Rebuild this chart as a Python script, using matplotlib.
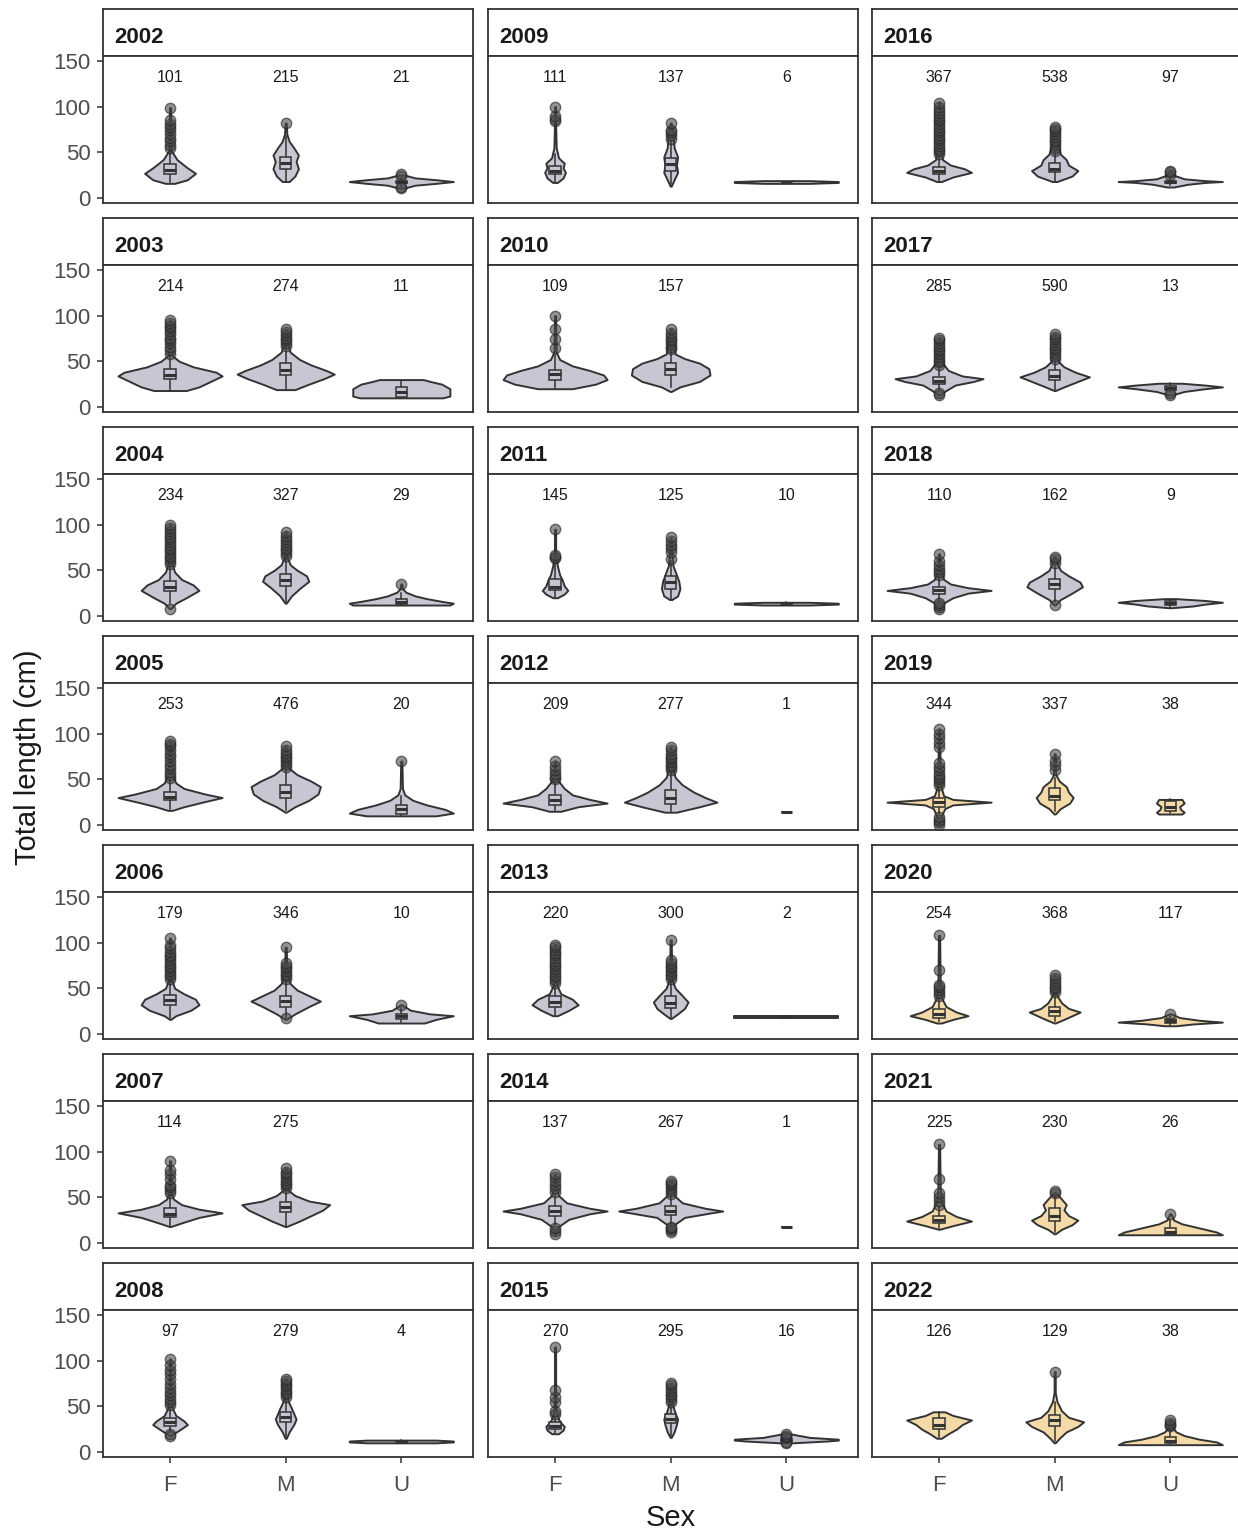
import matplotlib.pyplot as plt
from matplotlib.patches import Rectangle

plt.rcParams['font.family'] = ['Liberation Sans', 'DejaVu Sans']

sexes = ['F', 'M', 'U']
years = [2002, 2003, 2004, 2005, 2006, 2007, 2008,
         2009, 2010, 2011, 2012, 2013, 2014, 2015,
         2016, 2017, 2018, 2019, 2020, 2021, 2022]
tan_years = [2019, 2020, 2021, 2022]

# sample size per sex (None = no fish of that sex)
counts = {
    2002: [101, 215, 21], 2003: [214, 274, 11], 2004: [234, 327, 29],
    2005: [253, 476, 20], 2006: [179, 346, 10], 2007: [114, 275, None],
    2008: [97, 279, 4], 2009: [111, 137, 6], 2010: [109, 157, None],
    2011: [145, 125, 10], 2012: [209, 277, 1], 2013: [220, 300, 2],
    2014: [137, 267, 1], 2015: [270, 295, 16], 2016: [367, 538, 97],
    2017: [285, 590, 13], 2018: [110, 162, 9], 2019: [344, 337, 38],
    2020: [254, 368, 117], 2021: [225, 230, 26], 2022: [126, 129, 38],
}

# violin outlines: (length, half width in category units)
shapes = {
    2002: [[(16, .04), (20, .15), (27, .22), (33, .15), (42, .06), (52, .01), (99, .005)],
           [(18, .03), (24, .08), (32, .11), (40, .09), (47, .11), (55, .07), (62, .03), (70, .01), (82, .005)],
           [(11, .03), (14, .12), (16, .3), (18, .45), (20, .3), (22, .12), (25, .03)]],
    2003: [[(18, .14), (22, .25), (28, .35), (34, .45), (38, .4), (44, .2), (50, .08), (56, .02), (65, .01), (95, .005)],
           [(19, .08), (25, .2), (31, .33), (36, .42), (40, .35), (46, .22), (52, .12), (60, .04), (70, .01), (85, .005)],
           [(10, .36), (12, .42), (20, .42), (25, .35), (28, .25), (30, .19)]],
    2004: [[(8, .005), (14, .05), (20, .14), (28, .25), (34, .2), (40, .1), (48, .04), (60, .01), (100, .005)],
           [(14, .005), (22, .05), (30, .12), (38, .2), (44, .18), (50, .1), (56, .04), (65, .01), (92, .005)],
           [(12, .42), (14, .45), (16, .35), (19, .22), (22, .12), (26, .04), (30, .01), (35, .005)]],
    2005: [[(16, .02), (20, .12), (25, .28), (30, .45), (34, .3), (40, .12), (46, .05), (55, .02), (70, .01), (92, .005)],
           [(14, .005), (20, .08), (27, .2), (34, .28), (42, .3), (48, .22), (55, .1), (62, .03), (70, .01), (86, .005)],
           [(10, .3), (13, .45), (17, .38), (22, .22), (27, .1), (33, .03), (40, .01), (70, .005)]],
    2006: [[(16, .005), (20, .05), (26, .18), (32, .25), (38, .22), (44, .12), (50, .04), (60, .01), (105, .005)],
           [(16, .005), (22, .08), (30, .2), (36, .3), (42, .2), (48, .1), (55, .04), (65, .01), (95, .005)],
           [(12, .2), (16, .3), (20, .45), (22, .25), (26, .08), (32, .005)]],
    2007: [[(18, .005), (22, .1), (28, .25), (33, .45), (37, .25), (42, .1), (48, .03), (55, .01), (90, .005)],
           [(18, .005), (24, .12), (30, .22), (36, .32), (42, .38), (46, .2), (52, .08), (58, .02), (82, .005)],
           None],
    2008: [[(18, .005), (24, .08), (30, .15), (34, .12), (40, .05), (48, .02), (60, .01), (102, .005)],
           [(15, .005), (22, .03), (30, .07), (36, .09), (42, .07), (48, .05), (56, .02), (80, .005)],
           [(10, .3), (11, .45), (12, .45), (13, .3)]],
    2009: [[(17, .02), (22, .07), (28, .09), (33, .07), (38, .08), (44, .03), (55, .01), (80, .005), (100, .005)],
           [(13, .005), (20, .03), (28, .06), (36, .05), (45, .06), (55, .03), (70, .02), (82, .005)],
           [(16, .2), (17, .45), (18, .45), (19, .2)]],
    2010: [[(20, .15), (25, .35), (30, .45), (35, .42), (40, .3), (45, .15), (52, .04), (60, .01), (100, .005)],
           [(17, .005), (22, .08), (28, .25), (35, .34), (42, .33), (48, .25), (53, .12), (58, .04), (70, .02), (85, .005)],
           None],
    2011: [[(20, .02), (24, .08), (28, .11), (33, .08), (40, .06), (45, .04), (55, .02), (70, .005), (95, .005)],
           [(18, .01), (22, .06), (30, .08), (38, .07), (45, .05), (55, .02), (70, .01), (85, .005)],
           [(12, .2), (13, .45), (14, .45), (15, .2)]],
    2012: [[(15, .05), (20, .2), (24, .45), (28, .3), (33, .15), (40, .08), (48, .03), (55, .01), (70, .005)],
           [(14, .05), (20, .25), (25, .4), (30, .3), (36, .2), (44, .1), (52, .04), (60, .02), (85, .005)],
           None],
    2013: [[(20, .02), (26, .12), (32, .2), (38, .15), (44, .05), (52, .02), (60, .01), (98, .005)],
           [(17, .005), (22, .06), (28, .12), (35, .15), (42, .1), (50, .04), (60, .01), (103, .005)],
           [(18, .45), (20, .45)]],
    2014: [[(10, .005), (18, .03), (26, .12), (32, .3), (35, .45), (38, .3), (44, .1), (52, .03), (60, .01), (75, .005)],
           [(12, .005), (20, .03), (28, .12), (33, .35), (35, .45), (38, .3), (44, .1), (52, .03), (68, .005)],
           None],
    2015: [[(20, .03), (24, .07), (28, .08), (32, .05), (36, .03), (45, .01), (70, .005), (115, .005)],
           [(16, .005), (22, .03), (30, .05), (36, .06), (42, .04), (50, .02), (60, .01), (75, .005)],
           [(10, .05), (12, .35), (13, .45), (14, .45), (16, .2), (20, .03)]],
    2016: [[(18, .02), (23, .12), (28, .28), (32, .22), (36, .1), (42, .03), (60, .01), (105, .005)],
           [(18, .02), (24, .15), (30, .2), (36, .12), (42, .1), (48, .05), (60, .02), (78, .005)],
           [(12, .03), (15, .15), (17, .3), (18, .45), (19, .3), (21, .12), (25, .03), (30, .005)]],
    2017: [[(13, .005), (18, .06), (24, .14), (28, .3), (31, .38), (34, .2), (40, .08), (48, .03), (60, .01), (76, .005)],
           [(18, .005), (22, .08), (28, .2), (33, .3), (38, .18), (44, .08), (50, .03), (60, .01), (80, .005)],
           [(13, .01), (17, .12), (20, .3), (22, .45), (24, .3), (26, .1)]],
    2018: [[(8, .005), (15, .05), (20, .12), (25, .25), (28, .45), (31, .25), (35, .1), (40, .04), (50, .01), (68, .005)],
           [(12, .005), (18, .05), (25, .15), (32, .24), (37, .22), (44, .12), (50, .05), (58, .02), (65, .005)],
           [(9, .01), (11, .2), (13, .3), (15, .45), (17, .3), (19, .05)]],
    2019: [[(1, .005), (10, .02), (18, .05), (22, .12), (25, .45), (28, .12), (32, .04), (40, .02), (60, .01), (105, .005)],
           [(12, .005), (18, .05), (24, .13), (30, .16), (36, .12), (42, .1), (48, .04), (55, .01), (78, .005)],
           [(12, .1), (14, .12), (17, .09), (20, .08), (24, .12), (28, .1)]],
    2020: [[(12, .02), (16, .12), (20, .25), (24, .15), (30, .06), (40, .02), (55, .01), (108, .005)],
           [(12, .005), (16, .08), (20, .15), (24, .22), (28, .12), (34, .06), (42, .02), (50, .01), (65, .005)],
           [(9, .05), (11, .2), (13, .45), (15, .25), (18, .08), (22, .01)]],
    2021: [[(15, .005), (19, .12), (24, .28), (29, .15), (35, .06), (45, .02), (60, .01), (108, .005)],
           [(10, .005), (15, .06), (20, .15), (25, .2), (30, .12), (36, .08), (42, .1), (48, .06), (55, .01)],
           [(9, .45), (12, .4), (15, .3), (18, .2), (21, .1), (25, .03), (32, .005)]],
    2022: [[(15, .02), (20, .08), (25, .15), (30, .2), (35, .28), (40, .12), (44, .05)],
           [(10, .005), (15, .04), (22, .1), (28, .2), (33, .25), (38, .12), (45, .06), (55, .02), (65, .005), (88, .005)],
           [(8, .45), (11, .4), (14, .25), (18, .12), (22, .05), (28, .01), (35, .005)]],
}

# box stats: (lower whisker, q1, median, q3, upper whisker)
boxes = {
    2002: [(17, 26, 31, 37, 52), (18, 32, 38, 45, 68), (13, 16, 18, 19, 22)],
    2003: [(18, 31, 35, 42, 57), (20, 35, 41, 48, 66), (10, 11, 16, 22, 30)],
    2004: [(14, 27, 32, 38, 55), (15, 33, 39, 46, 64), (12, 13, 15, 19, 25)],
    2005: [(18, 27, 31, 36, 50), (16, 30, 36, 44, 63), (10, 12, 17, 22, 32)],
    2006: [(18, 32, 37, 43, 60), (18, 30, 36, 42, 58), (13, 16, 20, 22, 28)],
    2007: [(19, 28, 32, 38, 52), (19, 34, 39, 45, 60), None],
    2008: [(22, 29, 33, 37, 50), (17, 33, 38, 44, 58), (10, 11, 11, 12, 13)],
    2009: [(18, 26, 30, 35, 48), (15, 30, 37, 44, 62), (17, 17, 17, 18, 18)],
    2010: [(20, 30, 36, 41, 57), (22, 35, 42, 48, 62), None],
    2011: [(21, 28, 32, 40, 58), (19, 30, 37, 44, 60), (12, 13, 13, 14, 15)],
    2012: [(16, 22, 27, 33, 48), (15, 23, 30, 38, 58), (14, 14, 14, 14, 14)],
    2013: [(21, 30, 35, 42, 55), (18, 28, 34, 42, 58), (18, 18, 19, 20, 20)],
    2014: [(20, 30, 35, 40, 54), (20, 31, 35, 40, 52), (17, 17, 17, 17, 17)],
    2015: [(21, 25, 29, 33, 40), (18, 32, 36, 42, 55), (11, 12, 13, 14, 16)],
    2016: [(19, 26, 30, 34, 46), (19, 28, 32, 38, 50), (14, 16, 18, 19, 22)],
    2017: [(18, 25, 29, 33, 45), (19, 30, 34, 40, 52), (16, 19, 21, 23, 26)],
    2018: [(16, 24, 28, 32, 44), (15, 30, 35, 40, 55), (10, 12, 14, 16, 19)],
    2019: [(12, 20, 25, 30, 42), (15, 27, 32, 40, 52), (13, 15, 20, 26, 28)],
    2020: [(14, 18, 22, 27, 40), (14, 20, 25, 30, 45), (10, 12, 14, 16, 20)],
    2021: [(16, 22, 25, 30, 40), (12, 24, 30, 38, 55), (9, 10, 12, 16, 25)],
    2022: [(16, 25, 30, 37, 44), (12, 28, 35, 40, 55), (9, 10, 12, 16, 25)],
}

outliers = {
    2002: [[55, 58, 62, 66, 70, 75, 78, 81, 85, 99], [82], [11, 12, 24, 26]],
    2003: [[58, 62, 66, 70, 73, 76, 80, 83, 86, 89, 92, 95], [67, 70, 73, 76, 79, 82, 85], []],
    2004: [[8, 57, 60, 63, 66, 69, 72, 75, 78, 81, 84, 87, 90, 93, 96, 100],
           [66, 69, 72, 75, 78, 81, 84, 88, 92], [35]],
    2005: [[52, 55, 58, 62, 66, 70, 74, 78, 82, 86, 89, 92], [64, 67, 70, 73, 76, 79, 82, 86], [70]],
    2006: [[60, 63, 66, 69, 72, 75, 78, 81, 84, 87, 90, 94, 98, 105],
           [18, 60, 63, 66, 69, 72, 75, 78, 95], [32]],
    2007: [[55, 58, 61, 64, 70, 75, 80, 90], [60, 63, 66, 69, 72, 75, 78, 82], []],
    2008: [[18, 20, 52, 55, 58, 62, 66, 70, 75, 80, 85, 90, 95, 102],
           [60, 63, 66, 69, 72, 75, 78, 80], []],
    2009: [[84, 87, 90, 100], [65, 69, 72, 75, 82], []],
    2010: [[65, 75, 85, 100], [63, 66, 69, 72, 75, 78, 81, 85], []],
    2011: [[63, 65, 67, 95], [62, 70, 74, 78, 82, 86], []],
    2012: [[50, 53, 56, 60, 65, 70], [60, 63, 66, 69, 72, 75, 78, 82, 85], []],
    2013: [[56, 59, 62, 65, 68, 71, 74, 77, 80, 83, 86, 89, 92, 95, 98],
           [60, 63, 66, 69, 72, 75, 78, 81, 103], []],
    2014: [[10, 13, 16, 56, 60, 64, 68, 72, 75], [12, 14, 16, 18, 54, 57, 60, 63, 66, 68], []],
    2015: [[42, 45, 55, 60, 68, 115], [55, 58, 61, 64, 67, 70, 73, 76], [10, 11, 16, 18, 20]],
    2016: [[48, 51, 54, 57, 60, 63, 66, 69, 72, 75, 78, 81, 84, 87, 90, 93, 96, 100, 104],
           [52, 55, 58, 61, 64, 67, 70, 73, 76, 78], [25, 28, 30]],
    2017: [[13, 15, 46, 49, 52, 55, 58, 61, 64, 67, 70, 73, 76],
           [53, 56, 59, 62, 65, 68, 71, 74, 77, 80], [13, 15]],
    2018: [[8, 10, 12, 14, 45, 48, 52, 56, 60, 68], [12, 58, 62, 65], []],
    2019: [[0, 3, 6, 9, 44, 47, 50, 53, 56, 60, 64, 68, 85, 90, 95, 100, 105], [60, 66, 70, 78], []],
    2020: [[42, 45, 48, 51, 54, 70, 108], [46, 49, 52, 55, 58, 61, 65], [22]],
    2021: [[42, 46, 50, 55, 70, 108], [55, 57], [32]],
    2022: [[], [88], [28, 30, 32, 35]],
}

W, H = 1238, 1532
fig = plt.figure(figsize=(W / 100, H / 100), dpi=100)

col_left = [103, 488, 872]
panel_w = 370
strip_top0, row_step, strip_h, panel_h = 9, 209, 47, 147
edge = '#333333'
grey_fill = '#C6C7D3'
tan_fill = '#F3DAA8'
box_w = 0.1


def rect(x0, y0, w, h):
    return [x0 / W, 1 - (y0 + h) / H, w / W, h / H]


for i, year in enumerate(years):
    col, row = i // 7, i % 7
    x0 = col_left[col]
    ys = strip_top0 + row * row_step

    # strip
    sax = fig.add_axes(rect(x0, ys, panel_w, strip_h))
    sax.set_xticks([])
    sax.set_yticks([])
    for s in sax.spines.values():
        s.set_color(edge)
        s.set_linewidth(1.3)
    sax.text(11 / panel_w, 0.4, str(year), transform=sax.transAxes, fontsize=16,
             fontweight='bold', color='#1A1A1A', ha='left', va='center')

    ax = fig.add_axes(rect(x0, ys + strip_h, panel_w, panel_h))
    ax.set_xlim(0.42, 3.62)
    ax.set_ylim(-5.5, 155.5)
    for s in ax.spines.values():
        s.set_color(edge)
        s.set_linewidth(1.3)
    fill = tan_fill if year in tan_years else grey_fill

    for k in range(3):
        c = k + 1
        n = counts[year][k]
        if n is None:
            continue
        ax.text(c, 132, str(n), ha='center', va='center', fontsize=11.5, color='#1A1A1A')

        prof = shapes[year][k]
        if prof is not None:
            py = [p[0] for p in prof]
            pw = [p[1] for p in prof]
            ax.fill_betweenx(py, [c - w for w in pw], [c + w for w in pw],
                             facecolor=fill, edgecolor=edge, linewidth=1.4, zorder=2)

        lo, q1, med, q3, hi = boxes[year][k]
        ax.plot([c, c], [lo, q1], color=edge, lw=1.1, zorder=3)
        ax.plot([c, c], [q3, hi], color=edge, lw=1.1, zorder=3)
        ax.add_patch(Rectangle((c - box_w / 2, q1), box_w, q3 - q1, facecolor=fill,
                               edgecolor=edge, lw=1.1, zorder=3))
        ax.plot([c - box_w / 2, c + box_w / 2], [med, med], color=edge, lw=2.2,
                solid_capstyle='butt', zorder=4)

        pts = outliers[year][k]
        if pts:
            ax.plot([c] * len(pts), pts, 'o', ms=7.5, mfc='#4A4A4A', mec='#222222',
                    mew=1.0, alpha=0.6, zorder=5)

    ax.set_xticks([1, 2, 3])
    ax.set_yticks([0, 50, 100, 150])
    ax.tick_params(length=4, width=1.1, color=edge, labelsize=16, labelcolor='#4D4D4D', pad=5)
    ax.tick_params(axis='x', pad=9)
    if col == 0:
        ax.set_yticklabels(['0', '50', '100', '150'])
    else:
        ax.tick_params(axis='y', length=0, labelleft=False)
    if row == 6:
        ax.set_xticklabels(sexes)
    else:
        ax.tick_params(axis='x', length=0, labelbottom=False)

fig.text(28 / W, 1 - 757 / H, 'Total length (cm)', rotation=90, ha='center', va='center',
         fontsize=21, color='#1A1A1A')
fig.text(671 / W, 1 - 1518 / H, 'Sex', ha='center', va='center', fontsize=21, color='#1A1A1A')

fig.savefig('out.png', dpi=100, facecolor='white')
